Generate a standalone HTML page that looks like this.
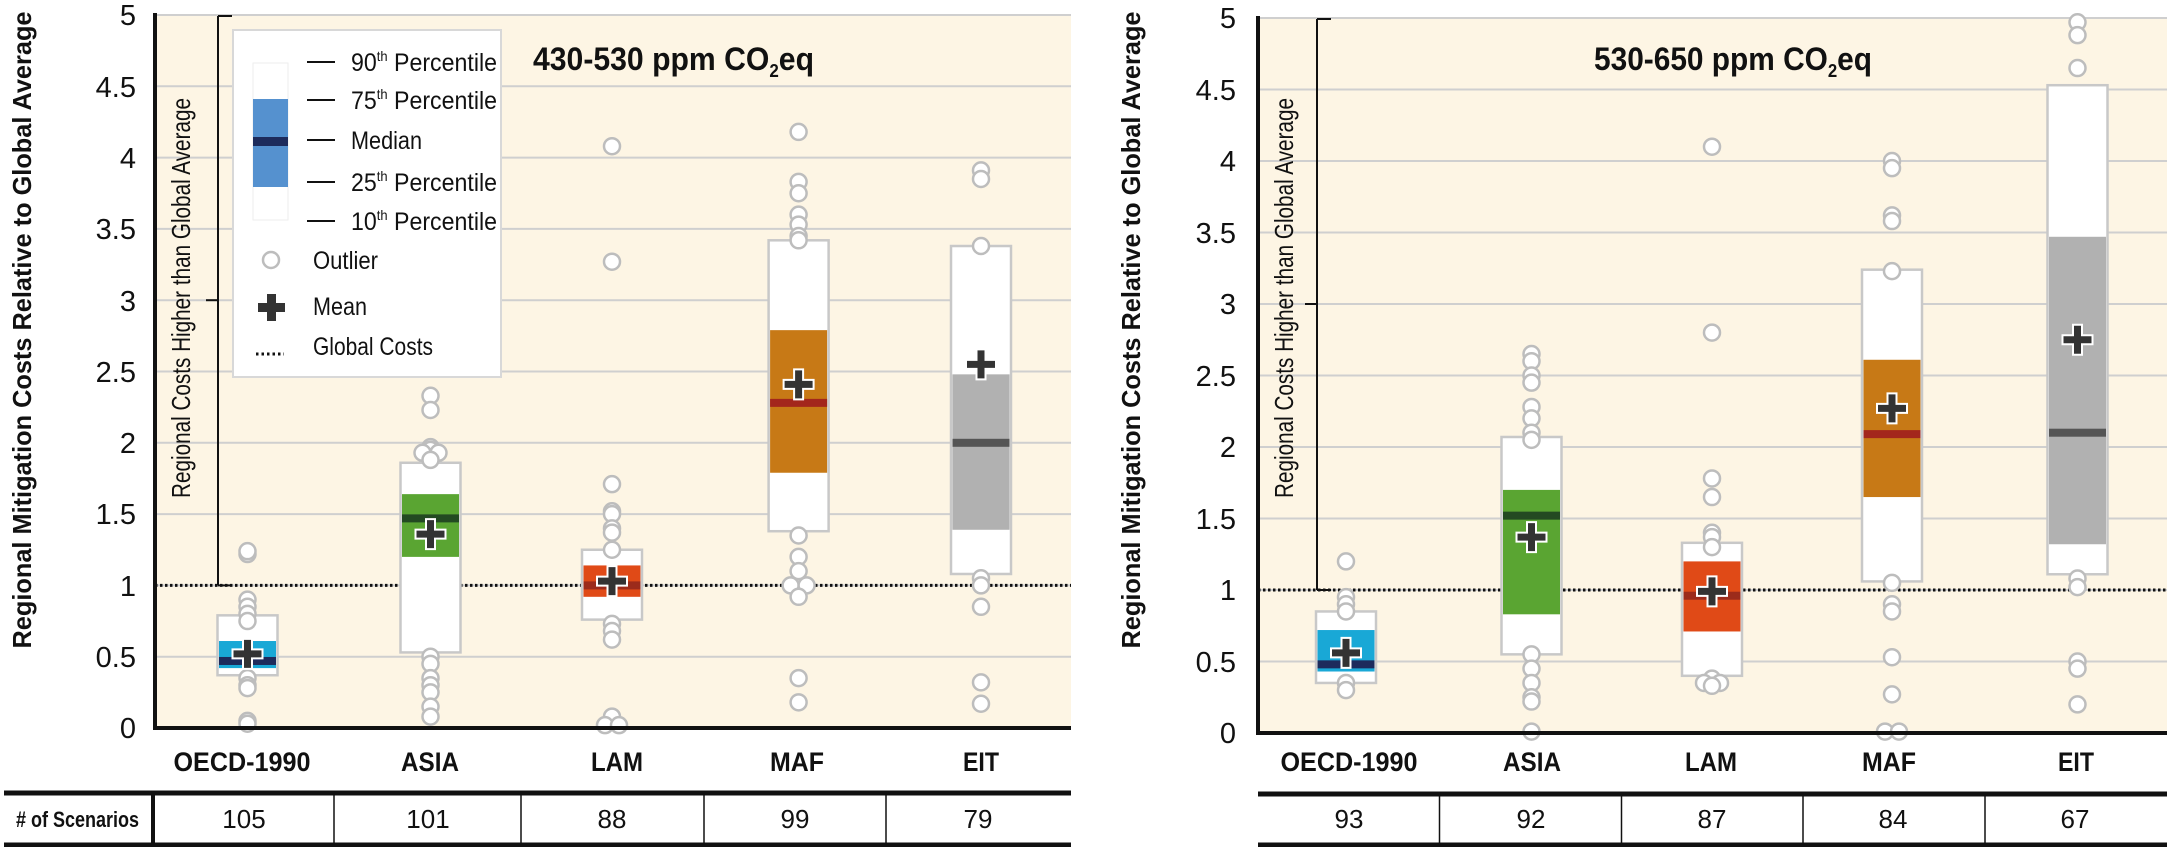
<!DOCTYPE html>
<html><head><meta charset="utf-8"><style>
html,body{margin:0;padding:0;background:#fff;}
svg{display:block;}
text{font-family:"Liberation Sans Narrow","Liberation Sans",sans-serif;fill:#111;}
</style></head><body>
<svg id="s" width="2167" height="847" viewBox="0 0 2167 847" xmlns="http://www.w3.org/2000/svg">
<g id="g"></g>
<text x="0" y="0" transform="translate(31,330) rotate(-90)" text-anchor="middle" font-weight="bold" font-size="26" textLength="637" lengthAdjust="spacingAndGlyphs" style="font-family:'Liberation Sans',sans-serif">Regional Mitigation Costs Relative to Global Average</text>
<text x="0" y="0" transform="translate(190,298) rotate(-90)" text-anchor="middle" font-size="26" textLength="400" lengthAdjust="spacingAndGlyphs" style="font-family:'Liberation Sans',sans-serif">Regional Costs Higher than Global Average</text>
<g font-size="29" text-anchor="end">
<text x="136" y="738">0</text><text x="136" y="667">0.5</text><text x="136" y="596">1</text><text x="136" y="524">1.5</text><text x="136" y="453">2</text><text x="136" y="382">2.5</text><text x="136" y="311">3</text><text x="136" y="239">3.5</text><text x="136" y="168">4</text><text x="136" y="97">4.5</text><text x="136" y="25">5</text>
</g>
<g font-size="29" text-anchor="end">
<text x="1236" y="743">0</text><text x="1236" y="672">0.5</text><text x="1236" y="600">1</text><text x="1236" y="529">1.5</text><text x="1236" y="457">2</text><text x="1236" y="386">2.5</text><text x="1236" y="314">3</text><text x="1236" y="243">3.5</text><text x="1236" y="171">4</text><text x="1236" y="100">4.5</text><text x="1236" y="28">5</text>
</g>
<text x="0" y="0" transform="translate(1140,330) rotate(-90)" text-anchor="middle" font-weight="bold" font-size="26" textLength="637" lengthAdjust="spacingAndGlyphs" style="font-family:'Liberation Sans',sans-serif">Regional Mitigation Costs Relative to Global Average</text>
<text x="0" y="0" transform="translate(1293,298) rotate(-90)" text-anchor="middle" font-size="26" textLength="400" lengthAdjust="spacingAndGlyphs" style="font-family:'Liberation Sans',sans-serif">Regional Costs Higher than Global Average</text>
</svg>
<script>
var NS="http://www.w3.org/2000/svg",G=document.getElementById("g"),S=document.getElementById("s");
function el(t,a,p){var e=document.createElementNS(NS,t);for(var k in a)e.setAttribute(k,a[k]);(p||G).appendChild(e);return e;}
function panel(P){
 var ax=P.ax,y0=P.y0,u=P.u,xr=P.xr,Y=function(v){return y0-u*v;};
 el("rect",{x:ax,y:Y(5),width:xr-ax,height:y0-Y(5),fill:"#fdf5e4"});
 for(var i=1;i<=10;i++){var yy=Y(i*0.5);el("line",{x1:ax,x2:xr,y1:yy,y2:yy,stroke:"#cfcfcf","stroke-width":2});}
 el("line",{x1:P.bx,x2:P.bx,y1:Y(5)+1,y2:Y(1),stroke:"#111","stroke-width":2});
 el("line",{x1:P.bx,x2:P.bx+14,y1:Y(5)+1,y2:Y(5)+1,stroke:"#111","stroke-width":2});
 el("line",{x1:P.bx,x2:P.bx+14,y1:Y(1),y2:Y(1),stroke:"#111","stroke-width":2});
 el("line",{x1:P.bx-12,x2:P.bx,y1:Y(3),y2:Y(3),stroke:"#111","stroke-width":2});
 el("line",{x1:ax,x2:xr,y1:Y(1),y2:Y(1),stroke:"#111","stroke-width":3,"stroke-dasharray":"2.5,2.5"});
 P.b.forEach(function(b){
  var c=b.c,h=30;
  el("rect",{x:c-h,y:Y(b.q[4]),width:2*h,height:Y(b.q[0])-Y(b.q[4]),fill:"#fff",stroke:"#c8c8c8","stroke-width":2.5});
  el("rect",{x:c-h+1.5,y:Y(b.q[3]),width:2*h-3,height:Y(b.q[1])-Y(b.q[3]),fill:b.f});
  el("rect",{x:c-h+1.5,y:Y(b.q[2])-4,width:2*h-3,height:8,fill:b.m});
  b.o.forEach(function(v){var dx=0;if(Array.isArray(v)){dx=v[1];v=v[0];}
   el("circle",{cx:c+dx,cy:Y(v),r:8,fill:"#fff",stroke:"#bdbdbd","stroke-width":2.5});});
  var my=Y(b.mean);
  el("path",{d:"M"+(c-4.5)+" "+(my-15)+"h9v10.5h10.5v9h-10.5v10.5h-9v-10.5h-10.5v-9h10.5z",fill:"#333",stroke:"#fff","stroke-width":2});
 });
 el("line",{x1:ax,x2:ax,y1:Y(5)-2,y2:y0+1,stroke:"#111","stroke-width":4});
 el("line",{x1:ax-2,x2:xr,y1:y0,y2:y0,stroke:"#111","stroke-width":4});
}
panel({ax:155,y0:728,u:142.6,xr:1071,bx:218,b:[
{c:247.5,q:[0.37,0.42,0.47,0.61,0.79],f:"#19a8d6",m:"#1d2b5c",mean:0.52,o:[1.22,1.24,0.9,0.85,0.8,0.75,0.35,0.3,0.28,0.05,0.03]},
{c:430.5,q:[0.53,1.2,1.47,1.64,1.86],f:"#5aa532",m:"#234a22",mean:1.36,o:[2.33,2.23,1.97,1.95,[1.93,-8],[1.93,8],1.88,0.5,0.45,0.35,0.3,0.25,0.15,0.08]},
{c:612,q:[0.76,0.92,1.0,1.14,1.25],f:"#e04a17",m:"#9c2b1b",mean:1.03,o:[4.08,3.27,1.71,1.52,1.5,1.4,1.37,1.25,0.73,0.68,0.62,0.08,[0.02,-7],[0.02,7]]},
{c:798.6,q:[1.38,1.79,2.28,2.79,3.42],f:"#c77916",m:"#a3261c",mean:2.41,o:[4.18,3.83,3.75,3.6,3.53,3.45,3.42,1.35,1.2,1.1,[1.0,-8],[1.0,8],0.92,0.35,0.18]},
{c:981,q:[1.08,1.39,2.0,2.48,3.38],f:"#b1b1b1",m:"#555",mean:2.55,o:[3.91,3.85,3.38,1.05,1.0,0.85,0.32,0.17]}]});
panel({ax:1258,y0:733,u:143,xr:2167,bx:1317,b:[
{c:1346,q:[0.35,0.43,0.48,0.72,0.85],f:"#19a8d6",m:"#1d2b5c",mean:0.56,o:[1.2,0.95,0.9,0.85,0.35,0.3]},
{c:1531.5,q:[0.55,0.83,1.52,1.70,2.07],f:"#5aa532",m:"#234a22",mean:1.37,o:[2.65,2.6,2.5,2.45,2.28,2.2,2.1,2.05,0.55,0.45,0.35,0.25,0.22,0.01]},
{c:1712,q:[0.40,0.71,0.96,1.20,1.33],f:"#e04a17",m:"#9c2b1b",mean:0.99,o:[4.1,2.8,1.78,1.65,1.4,1.37,1.3,0.38,[0.35,-8],[0.35,8],0.33]},
{c:1892,q:[1.06,1.65,2.09,2.61,3.24],f:"#c77916",m:"#a3261c",mean:2.27,o:[4.0,3.95,3.62,3.58,3.23,1.05,0.9,0.85,0.53,0.27,[0.01,-7],[0.01,7]]},
{c:2077.5,q:[1.11,1.32,2.10,3.47,4.53],f:"#b1b1b1",m:"#555",mean:2.75,o:[4.97,4.88,4.65,1.08,1.02,0.5,0.45,0.2]}]});
var L=el("g",{});
el("rect",{x:233,y:30,width:268,height:347,fill:"#fff",stroke:"#d8d8d8","stroke-width":2},L);
el("rect",{x:253,y:63,width:35,height:157,fill:"#fff",stroke:"#eee","stroke-width":1},L);
el("rect",{x:253,y:99,width:35,height:88,fill:"#5591cf"},L);
el("rect",{x:253,y:137,width:35,height:9,fill:"#1d2b5c"},L);
[62,100,140,182,221].forEach(function(y){el("line",{x1:307,x2:335,y1:y,y2:y,stroke:"#111","stroke-width":2},L);});
el("circle",{cx:271,cy:260,r:8,fill:"#fff",stroke:"#bdbdbd","stroke-width":2.5},L);
el("path",{d:"M267 294h9v9h9v9h-9v9h-9v-9h-9v-9h9z",fill:"#333"},L);
el("line",{x1:256,x2:284,y1:354,y2:354,stroke:"#111","stroke-width":3,"stroke-dasharray":"2.5,3"},L);
[[4,1071,793],[1258,2167,794]].forEach(function(a){el("line",{x1:a[0],x2:a[1],y1:a[2],y2:a[2],stroke:"#111","stroke-width":5});el("line",{x1:a[0],x2:a[1],y1:845,y2:845,stroke:"#111","stroke-width":5});});
el("line",{x1:153,x2:153,y1:793,y2:845,stroke:"#111","stroke-width":4});
[334,521,704,886].forEach(function(x){el("line",{x1:x,x2:x,y1:793,y2:845,stroke:"#111","stroke-width":1.5});});
[1439.5,1621.5,1803,1985].forEach(function(x){el("line",{x1:x,x2:x,y1:794,y2:845,stroke:"#111","stroke-width":1.5});});
</script>
<svg width="2167" height="847" viewBox="0 0 2167 847" style="position:absolute;left:0;top:0" xmlns="http://www.w3.org/2000/svg">
<g font-size="25">
<text x="351" y="71" textLength="146" lengthAdjust="spacingAndGlyphs">90<tspan font-size="14" dy="-10">th</tspan><tspan dy="10"> Percentile</tspan></text>
<text x="351" y="109" textLength="146" lengthAdjust="spacingAndGlyphs">75<tspan font-size="14" dy="-10">th</tspan><tspan dy="10"> Percentile</tspan></text>
<text x="351" y="149" textLength="71" lengthAdjust="spacingAndGlyphs">Median</text>
<text x="351" y="191" textLength="146" lengthAdjust="spacingAndGlyphs">25<tspan font-size="14" dy="-10">th</tspan><tspan dy="10"> Percentile</tspan></text>
<text x="351" y="230" textLength="146" lengthAdjust="spacingAndGlyphs">10<tspan font-size="14" dy="-10">th</tspan><tspan dy="10"> Percentile</tspan></text>
<text x="313" y="269" textLength="65" lengthAdjust="spacingAndGlyphs">Outlier</text>
<text x="313" y="315" textLength="54" lengthAdjust="spacingAndGlyphs">Mean</text>
<text x="313" y="355" textLength="120" lengthAdjust="spacingAndGlyphs">Global Costs</text>
</g>
<text x="533" y="70" font-size="32" font-weight="bold" textLength="281" lengthAdjust="spacingAndGlyphs">430-530 ppm CO<tspan font-size="18" dy="7">2</tspan><tspan dy="-7">eq</tspan></text>
<text x="1594" y="70" font-size="32" font-weight="bold" textLength="278" lengthAdjust="spacingAndGlyphs">530-650 ppm CO<tspan font-size="18" dy="7">2</tspan><tspan dy="-7">eq</tspan></text>
<g font-size="27" font-weight="bold" text-anchor="middle">
<text x="242" y="771" textLength="137" lengthAdjust="spacingAndGlyphs">OECD-1990</text><text x="430" y="771" textLength="58" lengthAdjust="spacingAndGlyphs">ASIA</text><text x="617" y="771" textLength="52" lengthAdjust="spacingAndGlyphs">LAM</text><text x="797" y="771" textLength="54" lengthAdjust="spacingAndGlyphs">MAF</text><text x="981" y="771" textLength="36" lengthAdjust="spacingAndGlyphs">EIT</text>
<text x="1349" y="771" textLength="137" lengthAdjust="spacingAndGlyphs">OECD-1990</text><text x="1532" y="771" textLength="58" lengthAdjust="spacingAndGlyphs">ASIA</text><text x="1711" y="771" textLength="52" lengthAdjust="spacingAndGlyphs">LAM</text><text x="1889" y="771" textLength="54" lengthAdjust="spacingAndGlyphs">MAF</text><text x="2076" y="771" textLength="36" lengthAdjust="spacingAndGlyphs">EIT</text>
</g>
<text x="16" y="827" font-size="22" font-weight="bold" textLength="123" lengthAdjust="spacingAndGlyphs">#&#160;of Scenarios</text>
<g font-size="26" text-anchor="middle">
<text x="244" y="828">105</text><text x="428" y="828">101</text><text x="612" y="828">88</text><text x="795" y="828">99</text><text x="978" y="828">79</text>
<text x="1349" y="828">93</text><text x="1531" y="828">92</text><text x="1712" y="828">87</text><text x="1893" y="828">84</text><text x="2075" y="828">67</text>
</g>
</svg>
</body></html>
